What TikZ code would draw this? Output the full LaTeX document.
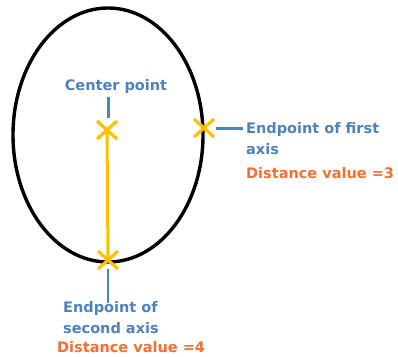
\documentclass[tikz,border=0pt]{standalone}
\usepackage{fontspec}
\setmainfont{DejaVu Sans}
\definecolor{lblblue}{HTML}{4F81BD}
\definecolor{lblorange}{HTML}{F56E32}
\definecolor{markyellow}{HTML}{FFC000}
\tikzset{
  lbl/.style={
    text=lblblue,
    font=\fontsize{14.5}{21.5}\selectfont\bfseries,
    align=left,
    inner sep=0pt
  },
  distlbl/.style={lbl,text=lblorange},
  pin/.style={draw=lblblue,line width=3pt},
  thinpin/.style={draw=lblblue,line width=1.3pt},
  axisline/.style={draw=markyellow,line width=3pt},
  xmark/.style={draw=markyellow,line width=3.2pt},
}
\newcommand{\xcross}[1]{%
  \draw[xmark] ([shift={(-10,-9)}]#1) -- ([shift={(10,9)}]#1);
  \draw[xmark] ([shift={(-10,9)}]#1) -- ([shift={(10,-9)}]#1);
}
\begin{document}
\begin{tikzpicture}[x=1pt,y=-1pt]
  \useasboundingbox (0,0) rectangle (398,356);
  % outline
  \draw[line width=3.4pt] (108,135) ellipse [x radius=95, y radius=127];
  % points
  \coordinate (centre) at (107,130);
  \coordinate (firstend) at (204,128);
  \coordinate (secondend) at (108,260);
  \draw[axisline] (centre) -- (secondend);
  \xcross{centre}
  \xcross{firstend}
  \xcross{secondend}
  % labels
  \node[lbl] (centrelbl) at (116,86) {Center point};
  \node[lbl,anchor=north west] (firstlbl) at (246,122) {Endpoint of first\\axis};
  \node[distlbl,anchor=north west] (firstdist) at (246,167) {Distance value =3};
  \node[lbl,anchor=north west] (secondlbl) at (63,301) {Endpoint of\\second axis};
  \node[distlbl,anchor=north west] (seconddist) at (57,341) {Distance value =4};
  % pointers
  \coordinate (centretip) at (108,118);
  \coordinate (firsttip) at (216,128);
  \coordinate (secondtip) at (108,269);
  \draw[pin] (108,97) -- (centretip);
  \draw[pin] (firstlbl.west |- firsttip) ++(-3,0) -- (firsttip);
  \draw[thinpin] ([yshift=-2pt]secondlbl.north -| secondtip) -- (secondtip);
\end{tikzpicture}
\end{document}
